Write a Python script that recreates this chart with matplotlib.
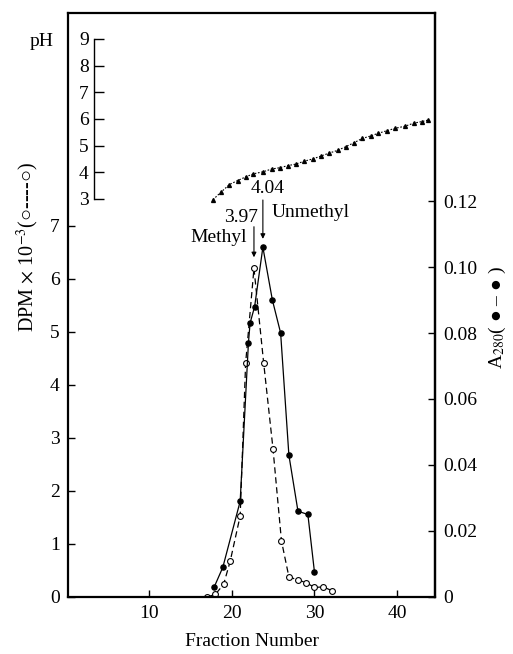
import matplotlib.pyplot as plt

plt.rcParams['font.family'] = ['Liberation Serif', 'DejaVu Serif']
plt.rcParams['mathtext.fontset'] = 'stix'

# DPM x 10^-3 (open circles, dashed line)
dpm_frac = [17.0, 18.0, 19.0, 19.8, 21.0, 21.66, 22.67, 23.85, 24.98, 26.0, 26.9, 28.0, 29.0, 30.0, 31.06, 32.1]
dpm_vals = [0.0, 0.05, 0.24, 0.68, 1.53, 4.41, 6.20, 4.41, 2.79, 1.06, 0.38, 0.32, 0.27, 0.18, 0.19, 0.12]

# A280 (filled circles, solid line)
a280_frac = [17.85, 18.9, 21.0, 22.0, 22.2, 22.75, 23.75, 24.9, 25.9, 26.9, 28.0, 29.2, 30.0]
a280_vals = [0.003, 0.009, 0.029, 0.077, 0.083, 0.088, 0.106, 0.090, 0.080, 0.043, 0.026, 0.025, 0.0075]

# pH gradient (triangles)
ph_frac = [17.7, 18.7, 19.7, 20.7, 21.7, 22.6, 23.8, 24.8, 25.8, 26.8, 27.8, 28.7, 29.8, 30.8,
           31.7, 32.8, 33.8, 34.8, 35.8, 36.8, 37.7, 38.8, 39.8, 41.0, 42.0, 43.0, 43.8]
ph_vals = [2.97, 3.26, 3.54, 3.69, 3.83, 3.94, 4.02, 4.12, 4.17, 4.25, 4.31, 4.41, 4.50, 4.61,
           4.71, 4.82, 4.96, 5.11, 5.27, 5.36, 5.46, 5.56, 5.65, 5.73, 5.84, 5.90, 5.96]

x_ticks = [10, 20, 30, 40]
dpm_ticks = [0, 1, 2, 3, 4, 5, 6, 7]
a280_ticks = [0, 0.02, 0.04, 0.06, 0.08, 0.10, 0.12]
a280_labels = ['0', '0.02', '0.04', '0.06', '0.08', '0.10', '0.12']
ph_ticks = [3, 4, 5, 6, 7, 8, 9]

fs = 14

fig = plt.figure(figsize=(5.13, 6.54), dpi=100)
ax = fig.add_axes([0.1326, 0.0872, 0.7154, 0.893])

ax.plot(dpm_frac, dpm_vals, color='k', ls=(0, (5, 3)), lw=0.9,
        marker='o', ms=4.2, mfc='white', mec='k', mew=0.8)
ax.set_xlim(0.15, 44.6)
ax.set_ylim(0, 11.02)
ax.set_xticks(x_ticks)
ax.set_yticks(dpm_ticks)
ax.tick_params(direction='in', length=5, width=1, labelsize=fs, pad=6)
for s in ax.spines.values():
    s.set_linewidth(1.6)
ax.set_xlabel('Fraction Number', fontsize=fs, labelpad=8)

# A280 on right axis
ax2 = ax.twinx()
ax2.plot(a280_frac, a280_vals, color='k', lw=0.9, marker='o', ms=3.7)
ax2.set_ylim(0, 0.177)
ax2.set_yticks(a280_ticks)
ax2.set_yticklabels(a280_labels)
ax2.tick_params(direction='in', length=5, width=1, labelsize=fs, pad=6)
for k in ['top', 'bottom', 'left']:
    ax2.spines[k].set_visible(False)
ax2.spines['right'].set_linewidth(1.6)

# pH on inner scale
ax3 = ax.twinx()
ax3.plot(ph_frac, ph_vals, color='k', ls=(0, (1.5, 1.5)), lw=0.8,
         marker='^', ms=2.8)
ax3.set_ylim(-11.93, 9.975)
for k in ['top', 'bottom', 'right']:
    ax3.spines[k].set_visible(False)
ax3.spines['left'].set_visible(True)
ax3.spines['left'].set_position(('data', 3.32))
ax3.spines['left'].set_bounds(3, 9)
ax3.spines['left'].set_linewidth(1)
ax3.yaxis.tick_left()
ax3.set_yticks(ph_ticks)
ax3.tick_params(direction='in', length=7, width=1, labelsize=fs, pad=4)

# arrows marking the peaks
i_m = dpm_vals.index(max(dpm_vals))
i_u = a280_vals.index(max(a280_vals))
ax.annotate('', xy=(dpm_frac[i_m], dpm_vals[i_m]), xytext=(0, 30), textcoords='offset points',
            arrowprops=dict(arrowstyle='-|>', lw=0.8, color='k', shrinkA=0, shrinkB=8,
                            mutation_scale=7))
ax.annotate('3.97', xy=(dpm_frac[i_m], dpm_vals[i_m]), xytext=(3, 37), textcoords='offset points',
            ha='right', va='center', fontsize=fs)
ax.annotate('Methyl', xy=(dpm_frac[i_m], dpm_vals[i_m]), xytext=(-5, 22.5), textcoords='offset points',
            ha='right', va='center', fontsize=fs)
ax2.annotate('', xy=(a280_frac[i_u], a280_vals[i_u]), xytext=(0, 34), textcoords='offset points',
             arrowprops=dict(arrowstyle='-|>', lw=0.8, color='k', shrinkA=0, shrinkB=6,
                             mutation_scale=7))
ax2.annotate('4.04', xy=(a280_frac[i_u], a280_vals[i_u]), xytext=(3.4, 42), textcoords='offset points',
             ha='center', va='center', fontsize=fs)
ax2.annotate('Unmethyl', xy=(a280_frac[i_u], a280_vals[i_u]), xytext=(6.3, 24.7), textcoords='offset points',
             ha='left', va='center', fontsize=fs)

fig.text(42 / 513, 1 - 42 / 654, 'pH', fontsize=fs, ha='center', va='center')
fig.text(28 / 513, 1 - 247 / 654, r'DPM $\times$ 10$^{-3}$(○----○)', fontsize=fs + 0.5,
         rotation=90, ha='center', va='center')
fig.text(497 / 513, 1 - 318 / 654, r'A$_{280}$( ● – ● )', fontsize=fs,
         rotation=90, ha='center', va='center')

fig.savefig('out.png', dpi=100)
